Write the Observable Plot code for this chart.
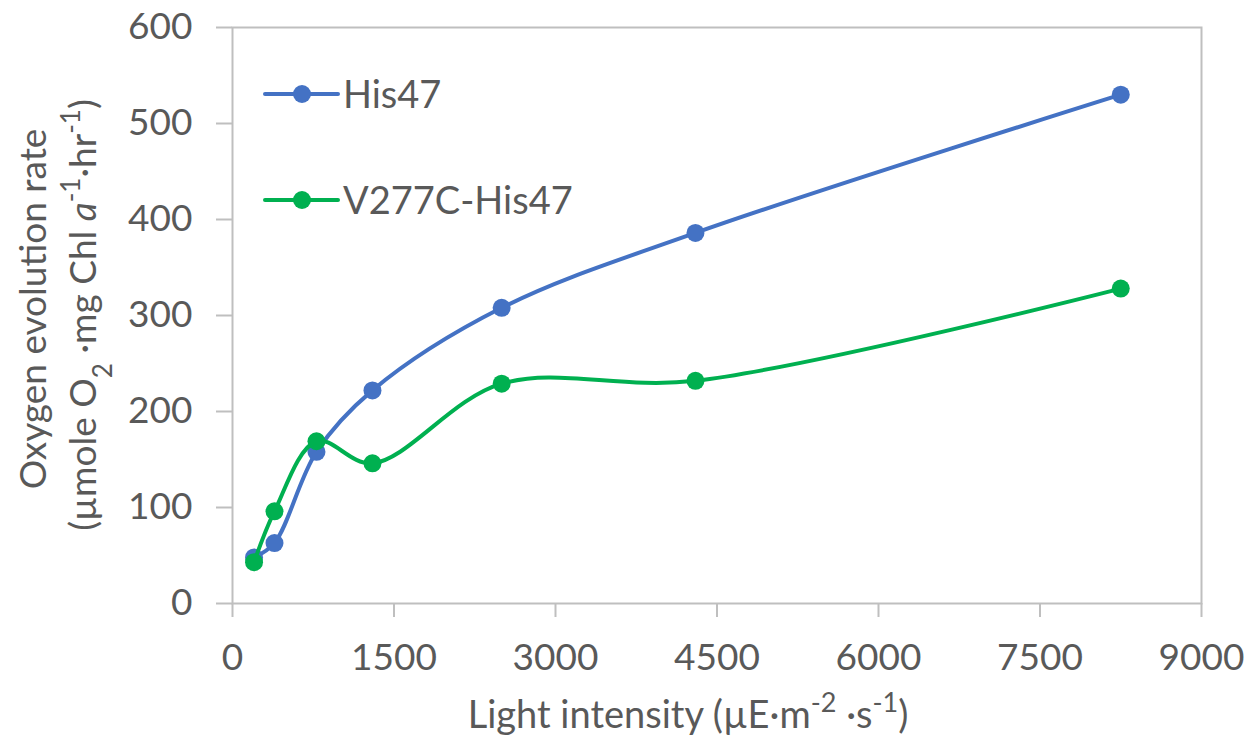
<!DOCTYPE html>
<html>
<head>
<meta charset="utf-8">
<script src="https://cdn.jsdelivr.net/npm/d3@7"></script>
<script src="https://cdn.jsdelivr.net/npm/@observablehq/plot@0.6"></script>
<style>
  html, body { margin: 0; padding: 0; background: #fff; }
  svg { font-family: Lato, "Open Sans", sans-serif; }
</style>
</head>
<body>
<div id="chart"></div>
<script>
// Data
const lightIntensity = [200, 390, 780, 1300, 2500, 4300, 8250];
const his47 = [48, 63, 158, 222, 308, 386, 530];
const v277cHis47 = [43, 96, 169, 146, 229, 232, 328];
const seriesNames = ["His47", "V277C-His47"];
const seriesColors = ["#4472C4", "#00B050"];
const xTicks = [0, 1500, 3000, 4500, 6000, 7500, 9000];
const yTicks = [0, 100, 200, 300, 400, 500, 600];

const rows1 = lightIntensity.map((x, i) => ({x, y: his47[i]}));
const rows2 = lightIntensity.map((x, i) => ({x, y: v277cHis47[i]}));

const W = 1249, H = 738;
const mL = 232, mR = 48, mT = 27, mB = 135;
const gray = "#BFBFBF", textGray = "#595959";
const FS = 37;

const plot = Plot.plot({
  width: W, height: H,
  marginLeft: mL, marginRight: mR, marginTop: mT, marginBottom: mB,
  style: {fontFamily: "Lato, 'Open Sans', sans-serif", background: "#fff"},
  x: {domain: [0, 9000]},
  y: {domain: [0, 600]},
  marks: [
    Plot.axisY({ticks: yTicks, tickFormat: d => String(d), tickSize: 16, tickPadding: 24, fontSize: FS, stroke: gray, strokeWidth: 2, fill: textGray, label: null}),
    Plot.axisX({ticks: xTicks, tickFormat: d => String(d), tickSize: 14, tickPadding: 26, fontSize: FS, stroke: gray, strokeWidth: 2, fill: textGray, label: null}),
    Plot.frame({stroke: gray, strokeWidth: 2}),
    Plot.line(rows1, {x: "x", y: "y", stroke: seriesColors[0], strokeWidth: 4, curve: "catmull-rom"}),
    Plot.dot(rows1, {x: "x", y: "y", r: 9, fill: seriesColors[0]}),
    Plot.line(rows2, {x: "x", y: "y", stroke: seriesColors[1], strokeWidth: 4, curve: "catmull-rom"}),
    Plot.dot(rows2, {x: "x", y: "y", r: 9, fill: seriesColors[1]})
  ]
});
document.getElementById("chart").appendChild(plot);

const svg = d3.select(plot);
const font = "Lato, 'Open Sans', sans-serif";

// Legend
const legendY = [94, 200];
seriesNames.forEach((name, i) => {
  const g = svg.append("g");
  g.append("line").attr("x1", 265).attr("x2", 338).attr("y1", legendY[i]).attr("y2", legendY[i])
    .attr("stroke", seriesColors[i]).attr("stroke-width", 4).attr("stroke-linecap", "round");
  g.append("circle").attr("cx", 302).attr("cy", legendY[i]).attr("r", 9).attr("fill", seriesColors[i]);
  g.append("text").attr("x", 343).attr("y", legendY[i]).attr("dy", "0.36em").attr("text-anchor", "start")
    .attr("font-size", 38).attr("font-family", font).attr("fill", textGray).text(name);
});

// X axis title
const xt = svg.append("text").attr("x", 688).attr("y", 728).attr("text-anchor", "middle")
  .attr("font-size", 38).attr("font-family", font).attr("fill", textGray);
xt.append("tspan").text("Light intensity (µE·m");
xt.append("tspan").attr("baseline-shift", "super").attr("font-size", 27).text("-2");
xt.append("tspan").text(" ·s");
xt.append("tspan").attr("baseline-shift", "super").attr("font-size", 27).text("-1");
xt.append("tspan").text(")");

// Y axis title (two lines)
const yc = (mT + (H - mB)) / 2 - 6;
svg.append("text").attr("transform", `translate(46,${yc}) rotate(-90)`).attr("text-anchor", "middle")
  .attr("font-size", 37).attr("font-family", font).attr("fill", textGray).text("Oxygen evolution rate");
const y2 = svg.append("text").attr("transform", `translate(96,${yc + 6}) rotate(-90)`).attr("text-anchor", "middle")
  .attr("font-size", 37).attr("font-family", font).attr("fill", textGray);
y2.append("tspan").text("(µmole O");
y2.append("tspan").attr("baseline-shift", "sub").attr("font-size", 26).text("2");
y2.append("tspan").text(" ·mg Chl ");
y2.append("tspan").attr("font-style", "italic").text("a");
y2.append("tspan").attr("baseline-shift", "super").attr("font-size", 26).text("-1");
y2.append("tspan").text("·hr");
y2.append("tspan").attr("baseline-shift", "super").attr("font-size", 26).text("-1");
y2.append("tspan").text(")");
</script>
</body>
</html>
